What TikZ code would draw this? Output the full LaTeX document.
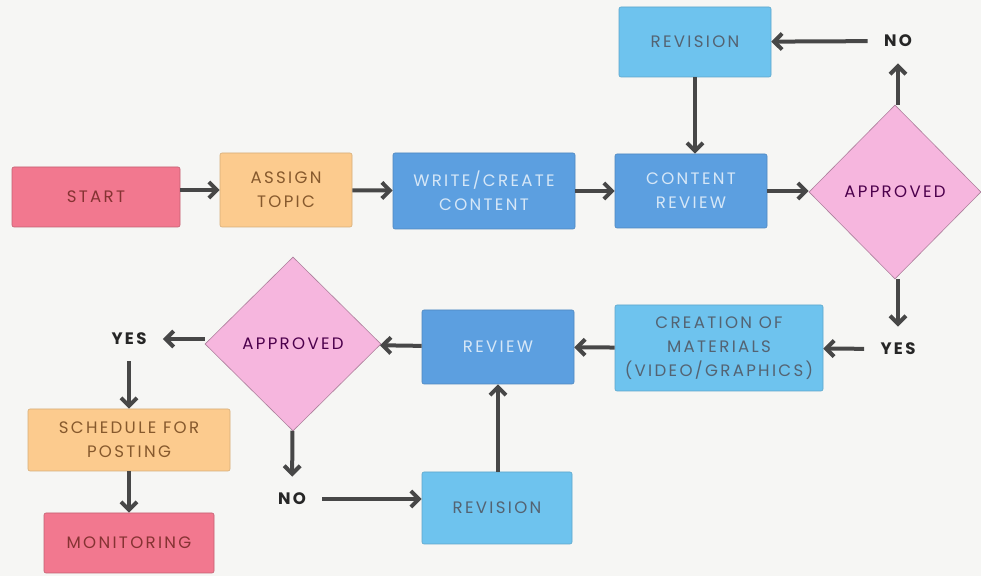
\documentclass[tikz,border=0pt]{standalone}
\usepackage{fontspec}
\setmainfont[LetterSpace=14]{Poppins}
\usetikzlibrary{shapes.geometric,arrows.meta}
\definecolor{bgcol}{HTML}{F6F6F4}
\definecolor{redbox}{HTML}{F2788F}
\definecolor{orangebox}{HTML}{FCCB8E}
\definecolor{darkblue}{HTML}{5C9FE0}
\definecolor{lightblue}{HTML}{6EC3EE}
\definecolor{pinkbox}{HTML}{F6B6DE}
\definecolor{arrowcol}{HTML}{474747}

\begin{document}
\begin{tikzpicture}[x=0.5pt,y=-0.5pt,
  font=\fontsize{8.3}{12}\selectfont,
  >={Straight Barb[length=4pt,width=8pt]},
  box/.style={rectangle,rounded corners=1pt,align=center,inner sep=1pt,line width=0.3pt},
  redstep/.style={box,fill=redbox,draw=redbox!80!black,text=red!40!black!80},
  orangestep/.style={box,fill=orangebox,draw=orangebox!85!black,text=brown!70!black},
  darkstep/.style={box,fill=darkblue,draw=darkblue!85!black,text=white!75!darkblue},
  lightstep/.style={box,fill=lightblue,draw=lightblue!85!black,text=darkblue!30!black!75},
  decision/.style={diamond,aspect=1,inner sep=1pt,fill=pinkbox,draw=pinkbox!70!black,line width=0.3pt,text=violet!60!black,minimum width=86pt,minimum height=87pt},
  answer/.style={inner sep=8pt,text=black!85,font=\fontsize{8.3}{12}\selectfont\bfseries},
  flow/.style={draw=arrowcol,line width=2pt}]
  \fill[bgcol] (0,0) rectangle (981,576);
  \useasboundingbox (0,0) rectangle (981,576);
  % top row
  \node[redstep,minimum width=84pt,minimum height=30pt] (A) at (96,197) {START};
  \node[orangestep,minimum width=66pt,minimum height=37pt] (B) at (286,190) {ASSIGN\\TOPIC};
  \node[darkstep,minimum width=91pt,minimum height=38pt] (C) at (484,191) {WRITE/CREATE\\CONTENT};
  \node[darkstep,minimum width=76pt,minimum height=37pt] (D) at (691,191) {CONTENT\\REVIEW};
  \node[decision] (E) at (895,192) {APPROVED};
  \node[lightstep,minimum width=76pt,minimum height=35pt] (H) at (695,42) {REVISION};
  \node[answer] (N1) at (898,41) {NO};
  \node[answer] (Y1) at (898,349) {YES};
  % bottom row
  \node[lightstep,minimum width=104pt,minimum height=43pt] (G) at (719,348) {CREATION OF\\MATERIALS\\(VIDEO/GRAPHICS)};
  \node[darkstep,minimum width=76pt,minimum height=37pt] (F) at (498,347) {REVIEW};
  \node[decision,minimum width=88pt] (K) at (293,344) {APPROVED};
  \node[lightstep,minimum width=75pt,minimum height=36pt] (J) at (497,508) {REVISION};
  \node[answer] (Y2) at (129,339) {YES};
  \node[answer] (N2) at (292,499) {NO};
  \node[orangestep,minimum width=101pt,minimum height=31pt] (L) at (129,440) {SCHEDULE FOR\\POSTING};
  \node[redstep,minimum width=85pt,minimum height=30pt] (M) at (129,543) {MONITORING};
  % connectors
  \draw [->,flow] (A.east |- B) -- (B);
  \draw [->,flow] (B) -- (C);
  \draw [->,flow] (C) -- (D);
  \draw [->,flow] (D) -- (D -| E.west);
  \draw [->,flow] (E.north -| N1) -- (N1);
  \draw [->,flow] (N1) -- (H);
  \draw [->,flow] (H) -- (H |- D.north);
  \draw [->,flow] (E.south -| Y1) -- (Y1);
  \draw [->,flow] (Y1) -- (G);
  \draw [->,flow] (G) -- (F);
  \draw [->,flow] (F) -- (K);
  \draw [->,flow] (K.west |- Y2) -- (Y2);
  \draw [->,flow] (Y2) -- (L);
  \draw [->,flow] (L) -- (M);
  \draw [->,flow] (K) -- (N2);
  \draw [->,flow] (N2) -- (N2 -| J.west);
  \draw [->,flow] (J.north -| F) -- (F);
\end{tikzpicture}
\end{document}
